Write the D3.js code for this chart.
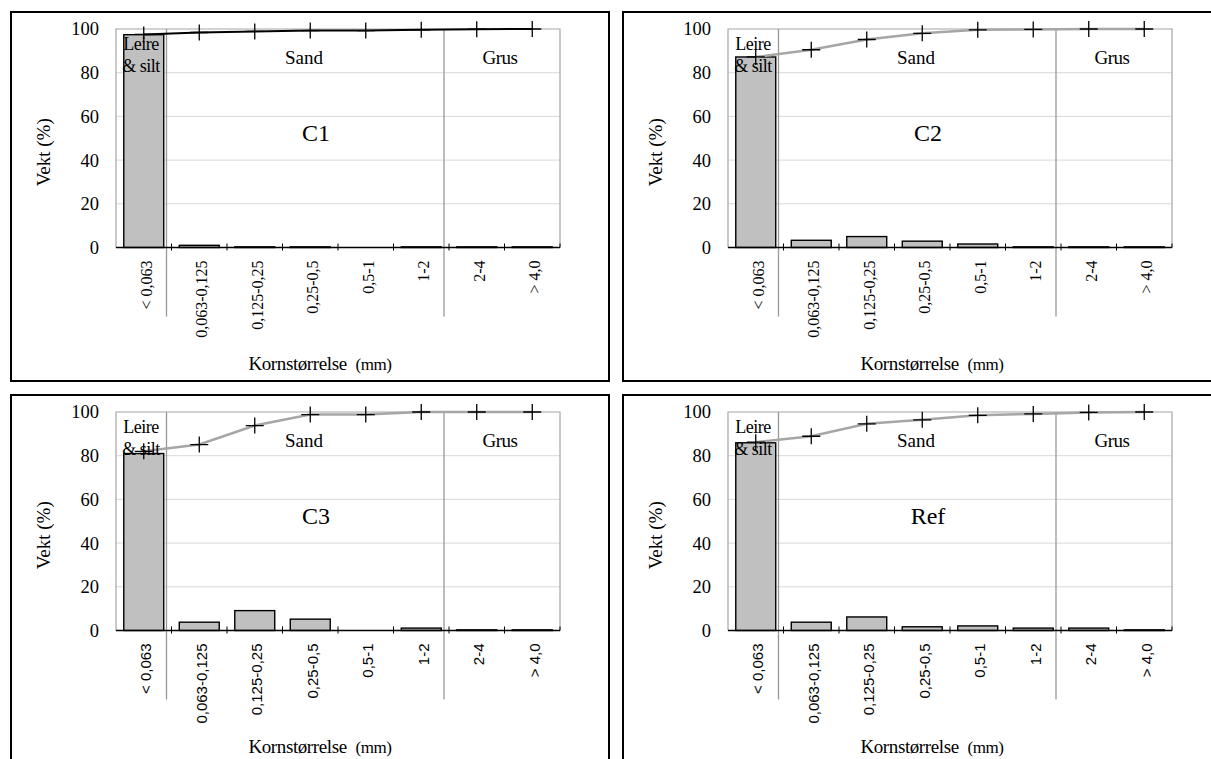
<!DOCTYPE html>
<html>
<head>
<meta charset="utf-8">
<script src="https://cdn.jsdelivr.net/npm/d3@7"></script>
<style>
  body { margin: 0; background: #fff; }
  svg { display: block; }
</style>
</head>
<body>
<svg id="chart" width="1211" height="759"></svg>
<script>
const categories = ["< 0,063", "0,063-0,125", "0,125-0,25", "0,25-0,5", "0,5-1", "1-2", "2-4", "> 4,0"];
const yTicks = [0, 20, 40, 60, 80, 100];
const sampleNames = ["C1", "C2", "C3", "Ref"];

// weight per fraction (bars) and cumulative (line + markers)
const c1Weight = [97.4, 1.0, 0.3, 0.3, 0, 0.3, 0.3, 0.3];
const c1Cumulative = [97.5, 98.4, 98.9, 99.3, 99.3, 99.6, 99.9, 100];
const c2Weight = [87.2, 3.3, 5.0, 2.9, 1.6, 0.3, 0.3, 0.3];
const c2Cumulative = [87.2, 90.5, 95.2, 98.0, 99.6, 99.8, 100, 100];
const c3Weight = [81.0, 3.8, 9.1, 5.2, 0, 1.1, 0.3, 0.3];
const c3Cumulative = [82.0, 85.1, 93.8, 98.8, 98.8, 100, 100, 100];
const refWeight = [85.9, 3.8, 6.2, 1.7, 2.1, 1.1, 1.1, 0.3];
const refCumulative = [86.2, 88.9, 94.6, 96.4, 98.5, 99.1, 99.8, 100];

const zoneLabels = ["Sand", "Grus"];
const clayLabel = ["Leire", "& silt"];
const xTitle = "Kornstørrelse";
const xUnit = "(mm)";
const yTitle = "Vekt (%)";

(() => {
  const svg = d3.select("#chart");
  const SERIF = "'Liberation Serif', 'Times New Roman', serif";
  const SANS = "'Liberation Sans', Arial, sans-serif";

  const frameW = 598, frameH = 369;
  const plotX = 105, plotY = 17;
  const w = 444, h = 218.5;

  svg.append("rect").attr("width", 1211).attr("height", 759).attr("fill", "#fff");

  // top panels have serif category labels, bottom ones sans
  const panels = [
    { name: sampleNames[0], weight: c1Weight, cum: c1Cumulative, fx: 11, fy: 12, lineColor: "#000", lineWidth: 2, tickFont: SERIF, tickSize: 16 },
    { name: sampleNames[1], weight: c2Weight, cum: c2Cumulative, fx: 623, fy: 12, lineColor: "#a6a6a6", lineWidth: 2.5, tickFont: SERIF, tickSize: 16 },
    { name: sampleNames[2], weight: c3Weight, cum: c3Cumulative, fx: 11, fy: 395, lineColor: "#a6a6a6", lineWidth: 2.5, tickFont: SANS, tickSize: 15 },
    { name: sampleNames[3], weight: refWeight, cum: refCumulative, fx: 623, fy: 395, lineColor: "#a6a6a6", lineWidth: 2.5, tickFont: SANS, tickSize: 15 }
  ];

  panels.forEach(drawPanel);

  function drawPanel(p) {
    const frame = svg.append("g").attr("transform", `translate(${p.fx},${p.fy})`);

    frame.append("rect")
      .attr("width", frameW)
      .attr("height", frameH)
      .attr("fill", "none")
      .attr("stroke", "#000")
      .attr("stroke-width", 2);

    const g = frame.append("g").attr("transform", `translate(${plotX},${plotY})`);

    const x = d3.scaleBand()
      .domain(categories)
      .range([0, w])
      .paddingInner(0.28)
      .paddingOuter(0.14);

    const y = d3.scaleLinear().domain([0, 100]).range([h, 0]);

    const step = x.step();
    const boundary = (c) => x(c) - step * 0.14;
    const center = (c) => x(c) + x.bandwidth() / 2;

    // gridlines
    g.selectAll(".grid")
      .data(yTicks.filter(t => t > 0 && t < 100))
      .join("line")
      .attr("x1", 0).attr("x2", w)
      .attr("y1", d => y(d)).attr("y2", d => y(d))
      .attr("stroke", "#d9d9d9")
      .attr("stroke-width", 1);

    // plot border (left, top, right)
    g.append("path")
      .attr("d", `M0,${h}V${y(100)}H${w}V${h}`)
      .attr("fill", "none")
      .attr("stroke", "#a6a6a6")
      .attr("stroke-width", 1.2);

    // y axis labels
    const yAxis = g.append("g")
      .call(d3.axisLeft(y).tickValues(yTicks).tickSize(0).tickPadding(17));
    yAxis.select(".domain").remove();
    yAxis.selectAll("text")
      .attr("font-family", SERIF)
      .attr("font-size", 18.5)
      .attr("fill", "#000");

    // zone dividers
    [categories[1], categories[6]].forEach(c => {
      g.append("line")
        .attr("x1", boundary(c) - 5).attr("x2", boundary(c) - 5)
        .attr("y1", y(100)).attr("y2", h + 69)
        .attr("stroke", "#999")
        .attr("stroke-width", 1.3);
    });

    // bars
    g.selectAll(".bar")
      .data(categories)
      .join("rect")
      .attr("x", d => x(d))
      .attr("width", x.bandwidth())
      .attr("y", (d, i) => y(p.weight[i]))
      .attr("height", (d, i) => h - y(p.weight[i]))
      .attr("fill", "#c0c0c0")
      .attr("stroke", "#000")
      .attr("stroke-width", 1.4)
      .attr("display", (d, i) => p.weight[i] > 0 ? null : "none");

    // x baseline with boundary ticks
    g.append("line")
      .attr("x1", 0).attr("x2", w)
      .attr("y1", h).attr("y2", h)
      .attr("stroke", "#000")
      .attr("stroke-width", 1.6);
    g.selectAll(".xtick")
      .data(categories.slice(1))
      .join("line")
      .attr("x1", d => boundary(d)).attr("x2", d => boundary(d))
      .attr("y1", h - 4).attr("y2", h + 3)
      .attr("stroke", "#000")
      .attr("stroke-width", 1);
    g.append("line")
      .attr("x1", w).attr("x2", w)
      .attr("y1", h - 4).attr("y2", h)
      .attr("stroke", "#000")
      .attr("stroke-width", 1);

    // x tick labels, rotated
    g.selectAll(".xlabel")
      .data(categories)
      .join("text")
      .attr("transform", d => `translate(${center(d)},${h + 13}) rotate(-90)`)
      .attr("dy", "0.5em")
      .attr("text-anchor", "end")
      .attr("font-family", p.tickFont)
      .attr("font-size", p.tickSize)
      .attr("fill", "#000")
      .text(d => d);

    // cumulative line
    const line = d3.line()
      .x((d, i) => center(categories[i]))
      .y(d => y(d));

    g.append("path")
      .datum(p.cum)
      .attr("d", line)
      .attr("fill", "none")
      .attr("stroke", p.lineColor)
      .attr("stroke-width", p.lineWidth);

    g.selectAll(".marker")
      .data(p.cum)
      .join("path")
      .attr("transform", (d, i) => `translate(${center(categories[i])},${y(d)})`)
      .attr("d", "M-9,0H9M0,-8V8")
      .attr("stroke", "#000")
      .attr("stroke-width", 1.3)
      .attr("fill", "none");

    // zone texts
    clayLabel.forEach((t, i) => {
      g.append("text")
        .attr("x", 25).attr("y", 15 + i * 22)
        .attr("dy", "0.35em")
        .attr("text-anchor", "middle")
        .attr("font-family", SERIF)
        .attr("font-size", 18)
        .attr("letter-spacing", -0.5)
        .text(t);
    });

    g.append("text")
      .attr("x", 188).attr("y", 28.5)
      .attr("dy", "0.35em")
      .attr("text-anchor", "middle")
      .attr("font-family", SERIF)
      .attr("font-size", 19)
      .text(zoneLabels[0]);
    g.append("text")
      .attr("x", 384).attr("y", 28.5)
      .attr("dy", "0.35em")
      .attr("text-anchor", "middle")
      .attr("font-family", SERIF)
      .attr("font-size", 19)
      .attr("letter-spacing", -0.5)
      .text(zoneLabels[1]);

    // sample name
    g.append("text")
      .attr("x", 200).attr("y", 104)
      .attr("dy", "0.35em")
      .attr("text-anchor", "middle")
      .attr("font-family", SERIF)
      .attr("font-size", 24)
      .text(p.name);

    // axis titles
    g.append("text")
      .attr("transform", `translate(${-73},${h / 2 + 14}) rotate(-90)`)
      .attr("dy", "0.35em")
      .attr("text-anchor", "middle")
      .attr("font-family", SERIF)
      .attr("font-size", 19)
      .text(yTitle);

    const xt = g.append("text")
      .attr("x", 204).attr("y", h + 116)
      .attr("dy", "0.35em")
      .attr("text-anchor", "middle")
      .attr("font-family", SERIF)
      .attr("font-size", 19)
      .attr("letter-spacing", -0.4);
    xt.append("tspan").text(xTitle + "\u00a0\u00a0");
    xt.append("tspan").attr("font-size", 17).text(xUnit);
  }
})();
</script>
</body>
</html>
